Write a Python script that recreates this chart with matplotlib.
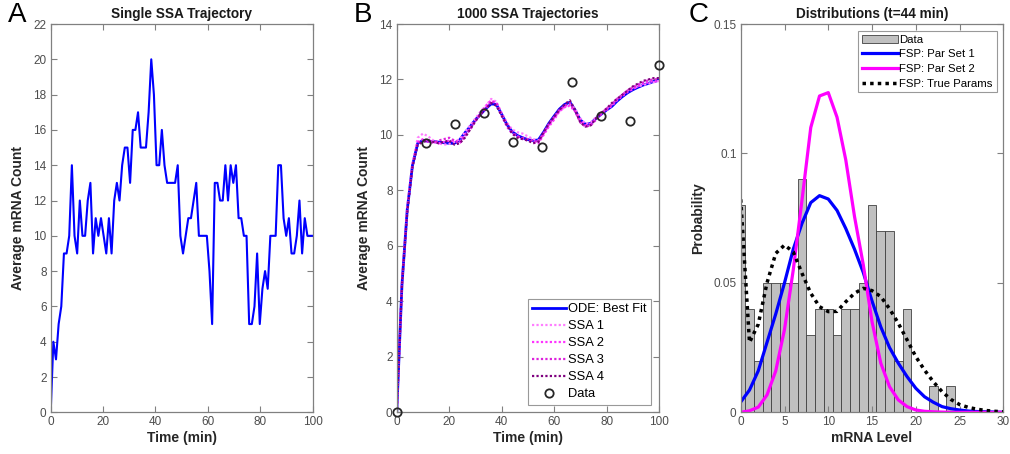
import numpy as np
import matplotlib
matplotlib.use("Agg")
from matplotlib import pyplot as plt

plt.rcParams['font.family'] = ['Liberation Sans', 'DejaVu Sans']

# panel A: one SSA trajectory, 100 samples over 0..100 min
ssa_single = [0, 4, 3, 5, 6, 9, 9, 10, 14, 10,
              9, 12, 10, 10, 12, 13, 9, 11, 10, 11,
              10, 9, 11, 9, 12, 13, 12, 14, 15, 15,
              13, 16, 16, 17, 15, 15, 15, 17, 20, 18,
              14, 14, 16, 14, 13, 13, 13, 13, 14, 10,
              9, 10, 11, 11, 12, 13, 10, 10, 10, 10,
              8, 5, 13, 13, 12, 12, 14, 12, 14, 13,
              14, 11, 11, 10, 10, 5, 5, 6, 9, 5,
              7, 8, 7, 10, 10, 10, 14, 14, 11, 10,
              11, 9, 9, 10, 12, 9, 11, 10, 10, 10]
t_single = np.linspace(0, 100, len(ssa_single))

# panel B: ODE fit and 4 SSA averages on a 2 min grid
t_avg = np.arange(0, 101, 2)
ode_fit = [0, 4.6, 7.3, 8.9, 9.7, 9.8, 9.78, 9.76, 9.74, 9.72,
           9.7, 9.7, 9.82, 10.08, 10.3, 10.55, 10.75, 10.95, 11.12, 11.1,
           10.75, 10.38, 10.12, 9.98, 9.9, 9.83, 9.8, 9.82, 10.1, 10.42,
           10.68, 10.93, 11.1, 11.18, 10.9, 10.54, 10.38, 10.42, 10.6, 10.75,
           10.9, 11.03, 11.22, 11.38, 11.52, 11.63, 11.72, 11.8, 11.86, 11.93,
           11.97]
ssa_1 = [0, 4.5, 7.4, 9.0, 9.9, 10.05, 9.95, 9.8, 9.7, 9.65,
         9.68, 9.75, 9.85, 10.1, 10.35, 10.6, 10.85, 11.05, 11.3, 11.2,
         10.8, 10.45, 10.2, 10.1, 10.05, 9.95, 9.85, 9.8, 10.05, 10.35,
         10.6, 10.85, 11.0, 11.1, 10.95, 10.6, 10.4, 10.45, 10.65, 10.8,
         10.95, 11.1, 11.3, 11.45, 11.6, 11.7, 11.75, 11.8, 11.85, 11.9,
         11.95]
ssa_2 = [0, 4.7, 7.3, 8.9, 9.75, 9.85, 9.8, 9.75, 9.7, 9.75,
         9.8, 9.78, 9.75, 10.0, 10.25, 10.5, 10.8, 11.05, 11.25, 11.15,
         10.7, 10.3, 10.05, 9.95, 9.85, 9.8, 9.75, 9.7, 10.0, 10.3,
         10.55, 10.85, 11.0, 11.05, 10.85, 10.5, 10.35, 10.4, 10.6, 10.75,
         10.9, 11.05, 11.25, 11.4, 11.55, 11.65, 11.75, 11.85, 11.9, 11.95,
         11.9]
ssa_3 = [0, 4.6, 7.3, 8.9, 9.7, 9.8, 9.75, 9.72, 9.8, 9.85,
         9.9, 9.8, 9.7, 9.95, 10.2, 10.5, 10.75, 10.95, 11.2, 11.15,
         10.75, 10.4, 10.1, 9.95, 9.9, 9.85, 9.8, 9.75, 10.05, 10.4,
         10.65, 10.9, 11.05, 11.15, 10.85, 10.45, 10.3, 10.35, 10.55, 10.75,
         10.95, 11.1, 11.3, 11.45, 11.6, 11.72, 11.82, 11.9, 11.98, 12.0,
         12.02]
ssa_4 = [0, 4.6, 7.2, 8.85, 9.65, 9.75, 9.8, 9.75, 9.7, 9.75,
         9.8, 9.65, 9.7, 9.9, 10.2, 10.5, 10.75, 10.95, 11.15, 11.05,
         10.7, 10.35, 10.05, 9.9, 9.85, 9.8, 9.7, 9.75, 10.1, 10.4,
         10.65, 10.9, 11.1, 11.25, 10.9, 10.45, 10.3, 10.35, 10.6, 10.8,
         10.95, 11.15, 11.3, 11.45, 11.6, 11.75, 11.85, 11.95, 12.0, 12.05,
         12.05]
data_t = np.linspace(0, 100, 10)
data_mean = [0, 9.72, 10.38, 10.78, 9.75, 9.58, 11.92, 10.70, 10.50, 12.52]

# panel C: histogram at t=44 and FSP distributions
hist_levels = np.arange(0, 25)
hist_prob = [0.08, 0.04, 0.02, 0.05, 0.05, 0.05, 0.05, 0.09, 0.03, 0.04,
             0.04, 0.03, 0.04, 0.04, 0.05, 0.08, 0.07, 0.07, 0.02, 0.04,
             0.0, 0.0, 0.01, 0.0, 0.01]
fsp_levels = np.arange(0, 31)
fsp_par1 = [0.004, 0.0086, 0.016, 0.027, 0.038, 0.050, 0.063, 0.073, 0.081, 0.0837,
            0.0824, 0.078, 0.071, 0.063, 0.054, 0.043, 0.033, 0.025, 0.019, 0.0138,
            0.0093, 0.006, 0.0039, 0.0022, 0.0014, 0.0009, 0.0005, 0.0003, 0.0002, 0.0001,
            0.0]
fsp_par2 = [0.0, 0.0006, 0.002, 0.0067, 0.016, 0.032, 0.055, 0.082, 0.110, 0.1222,
            0.1235, 0.114, 0.0975, 0.0756, 0.057, 0.035, 0.019, 0.0099, 0.0048, 0.0022,
            0.0009, 0.0004, 0.0002, 0.0001, 0.0, 0.0, 0.0, 0.0, 0.0, 0.0,
            0.0]
fsp_true = [0.0823, 0.027, 0.034, 0.050, 0.0614, 0.0646, 0.062, 0.0537, 0.046, 0.0408,
            0.0389, 0.039, 0.0427, 0.046, 0.0479, 0.047, 0.0447, 0.040, 0.0344, 0.028,
            0.0215, 0.0163, 0.0118, 0.008, 0.005, 0.003, 0.0019, 0.0012, 0.0007, 0.0004,
            0.0002]

TICK_GREY = '#4d4d4d'


def matlab_axes(ax):
    for side in ax.spines.values():
        side.set_color('#808080')
        side.set_linewidth(0.9)
    ax.tick_params(direction='in', top=True, right=True, length=4, width=0.8,
                   color='#808080', labelcolor=TICK_GREY, labelsize=8.5, pad=3)


fig = plt.figure(figsize=(10.1, 4.54), dpi=100)
ax_a = fig.add_axes([0.0502, 0.0918, 0.2594, 0.8553])
ax_b = fig.add_axes([0.3928, 0.0918, 0.2597, 0.8553])
ax_c = fig.add_axes([0.7334, 0.0918, 0.2600, 0.8553])

title_kw = dict(fontsize=9.8, fontweight='bold', color='#1a1a1a', pad=4)
label_kw = dict(fontsize=10, fontweight='bold', color='#262626')

# A
ax_a.plot(t_single, ssa_single, color='#0000ff', lw=1.5)
ax_a.set_xlim(0, 100)
ax_a.set_ylim(0, 22)
ax_a.set_xticks(range(0, 101, 20))
ax_a.set_yticks(range(0, 23, 2))
ax_a.set_title('Single SSA Trajectory', **title_kw)
ax_a.set_xlabel('Time (min)', labelpad=2, **label_kw)
ax_a.set_ylabel('Average mRNA Count', labelpad=6, **label_kw)
matlab_axes(ax_a)

# B
ax_b.plot(t_avg, ode_fit, color='#0000ff', lw=2, label='ODE: Best Fit')
ssa_colors = ['#ff7fff', '#ff33ff', '#dd22dd', '#7f007f']
for i, ssa in enumerate([ssa_1, ssa_2, ssa_3, ssa_4]):
    ax_b.plot(t_avg, ssa, color=ssa_colors[i], lw=1.6, ls=(0, (1, 1)),
              label='SSA %d' % (i + 1))
ax_b.plot(data_t, data_mean, 'o', mfc='none', mec='#262626', mew=1.3, ms=6,
          label='Data', clip_on=False, zorder=5)
ax_b.set_xlim(0, 100)
ax_b.set_ylim(0, 14)
ax_b.set_xticks(range(0, 101, 20))
ax_b.set_yticks(range(0, 15, 2))
ax_b.set_title('1000 SSA Trajectories', **title_kw)
ax_b.set_xlabel('Time (min)', labelpad=2, **label_kw)
ax_b.set_ylabel('Average mRNA Count', labelpad=6, **label_kw)
leg_b = ax_b.legend(loc='lower right', fontsize=9.3, frameon=True, fancybox=False,
                    edgecolor='#808080', handlelength=2.6, handletextpad=0.2,
                    labelspacing=0.38, borderpad=0.35, borderaxespad=0.6)
leg_b.get_frame().set_linewidth(0.8)
matlab_axes(ax_b)

# C
bars = ax_c.bar(hist_levels, hist_prob, width=1, color='#c0c0c0', edgecolor='#404040',
                lw=0.6, label='Data')
l1, = ax_c.plot(fsp_levels, fsp_par1, color='#0000ff', lw=2.3, label='FSP: Par Set 1')
l2, = ax_c.plot(fsp_levels, fsp_par2, color='#ff00ff', lw=2.3, label='FSP: Par Set 2')
l3, = ax_c.plot(fsp_levels, fsp_true, color='black', lw=2.5, ls=(0, (1, 1.2)),
                label='FSP: True Params')
ax_c.set_xlim(0, 30)
ax_c.set_ylim(0, 0.15)
ax_c.set_xticks(range(0, 31, 5))
ax_c.set_yticks([0, 0.05, 0.1, 0.15])
ax_c.set_yticklabels(['0', '0.05', '0.1', '0.15'])
ax_c.set_title('Distributions (t=44 min)', **title_kw)
ax_c.set_xlabel('mRNA Level', labelpad=2, **label_kw)
ax_c.set_ylabel('Probability', labelpad=6, **label_kw)
leg_c = ax_c.legend([bars, l1, l2, l3], [h.get_label() for h in (bars, l1, l2, l3)],
                    loc='upper right', fontsize=8.2, frameon=True, fancybox=False,
                    edgecolor='#808080', handlelength=3.2, handletextpad=0.1,
                    labelspacing=0.4, borderpad=0.35, borderaxespad=0.6)
leg_c.get_frame().set_linewidth(0.8)
matlab_axes(ax_c)

for letter, x in [('A', 0.008), ('B', 0.35), ('C', 0.682)]:
    fig.text(x, 0.995, letter, fontsize=20, va='top', ha='left', color='black')

fig.savefig('out.png', dpi=100)
